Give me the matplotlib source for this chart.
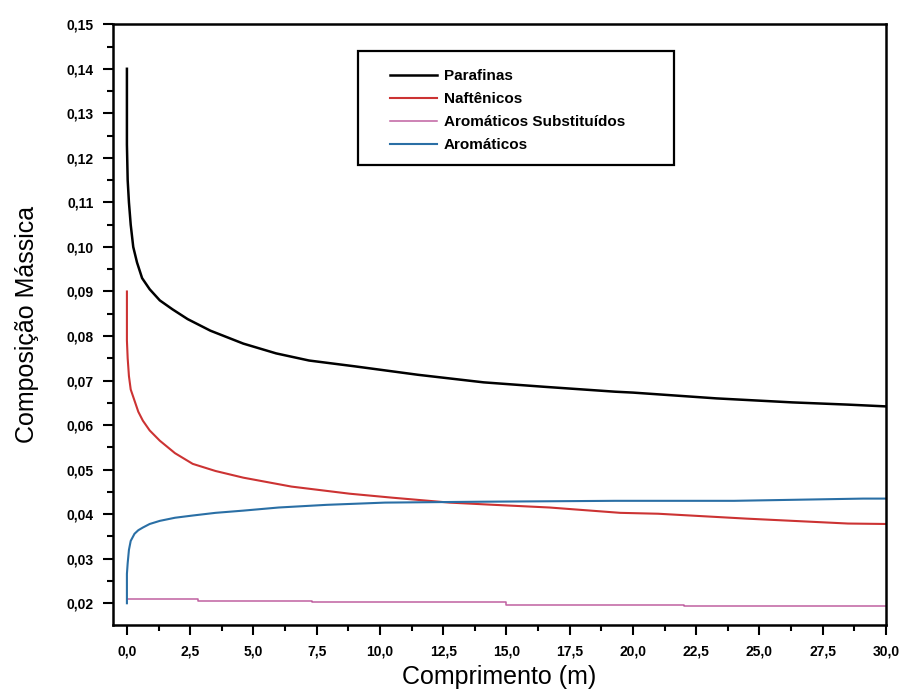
import matplotlib
matplotlib.use('Agg')
import matplotlib.pyplot as plt
from matplotlib.patches import Rectangle
from matplotlib.ticker import MultipleLocator, FuncFormatter

# data
x_par = [0.0, 0.0, 0.03, 0.08, 0.15, 0.25, 0.4, 0.6, 0.9, 1.3, 1.8, 2.4, 3.3,
         4.6, 5.9, 7.2, 9.0, 11.5, 14.1, 16.5, 19.3, 20.0, 23.3, 26.3, 28.5, 30.0]
y_par = [0.140, 0.123, 0.115, 0.110, 0.105, 0.100, 0.0965, 0.093, 0.0905,
         0.088, 0.086, 0.0838, 0.0812, 0.0783, 0.0761, 0.0745, 0.0732, 0.0713,
         0.0696, 0.0686, 0.0675, 0.0673, 0.0660, 0.0651, 0.0646, 0.0642]

x_naf = [0.0, 0.0, 0.03, 0.08, 0.15, 0.3, 0.45, 0.63, 0.9, 1.3, 1.9, 2.6, 3.5,
         4.6, 6.5, 8.8, 10.5, 12.75, 14.5, 16.7, 19.5, 21.0, 24.5, 28.5, 30.0]
y_naf = [0.090, 0.079, 0.075, 0.071, 0.068, 0.0655, 0.063, 0.061, 0.0588,
         0.0565, 0.0537, 0.0513, 0.0497, 0.0482, 0.0462, 0.0446, 0.0437,
         0.0426, 0.0421, 0.0415, 0.0403, 0.0401, 0.0390, 0.0379, 0.0378]

x_sub = [0.0, 2.8, 7.3, 15.0, 22.0, 30.0]
y_sub = [0.0210, 0.0206, 0.0202, 0.0197, 0.0193, 0.0193]

x_aro = [0.0, 0.0, 0.03, 0.08, 0.15, 0.3, 0.45, 0.63, 0.9, 1.3, 1.9, 2.6, 3.5,
         4.6, 6.0, 7.9, 10.2, 14.0, 19.3, 24.0, 29.1, 30.0]
y_aro = [0.020, 0.0266, 0.029, 0.032, 0.034, 0.0356, 0.0364, 0.037, 0.0378,
         0.0385, 0.0392, 0.0397, 0.0403, 0.0408, 0.0415, 0.0421, 0.0426,
         0.0428, 0.0430, 0.0430, 0.0435, 0.0435]

labels = ['Parafinas', 'Naftênicos', 'Aromáticos Substituídos', 'Aromáticos']

plt.rcParams['font.family'] = 'Liberation Sans'

fig = plt.figure(figsize=(9.04, 6.93), dpi=100)
ax = fig.add_axes([0.125, 0.098, 0.855, 0.867])

ax.plot(x_par, y_par, color='black', lw=1.8, label=labels[0])
ax.plot(x_naf, y_naf, color='#cc3333', lw=1.5, label=labels[1])
ax.plot(x_sub, y_sub, color='#c060a0', lw=1.1, drawstyle='steps-post',
        label=labels[2])
ax.plot(x_aro, y_aro, color='#2a6fa5', lw=1.5, label=labels[3])

ax.set_xlim(-0.55, 30.0)
ax.set_ylim(0.0151, 0.15)

ax.xaxis.set_major_locator(MultipleLocator(2.5))
ax.xaxis.set_minor_locator(MultipleLocator(1.25))
ax.yaxis.set_major_locator(MultipleLocator(0.01))
ax.yaxis.set_minor_locator(MultipleLocator(0.005))
ax.xaxis.set_major_formatter(FuncFormatter(lambda v, p: ('%.1f' % v).replace('.', ',')))
ax.yaxis.set_major_formatter(FuncFormatter(lambda v, p: ('%.2f' % v).replace('.', ',')))

ax.tick_params(which='major', direction='out', length=7, width=1.5,
               labelsize=10, pad=7)
ax.tick_params(which='minor', direction='out', length=4, width=1.5)
for lab in ax.get_xticklabels() + ax.get_yticklabels():
    lab.set_fontweight('bold')
for s in ax.spines.values():
    s.set_linewidth(1.8)

ax.set_xlabel('Comprimento (m)', fontsize=18, labelpad=5)
ax.set_ylabel('Composição Mássica', fontsize=18, labelpad=20)

# legend with its own frame
leg = ax.legend(loc='upper left', bbox_to_anchor=(0.358, 0.925),
                prop={'size': 11, 'weight': 'bold'}, frameon=False,
                handlelength=3.1, handletextpad=0.45, labelspacing=0.58,
                borderpad=0, borderaxespad=0)
ax.add_patch(Rectangle((0.317, 0.765), 0.409, 0.19, transform=ax.transAxes,
                       fill=False, edgecolor='black', lw=1.6, zorder=5))

fig.savefig('out.png', dpi=100)
